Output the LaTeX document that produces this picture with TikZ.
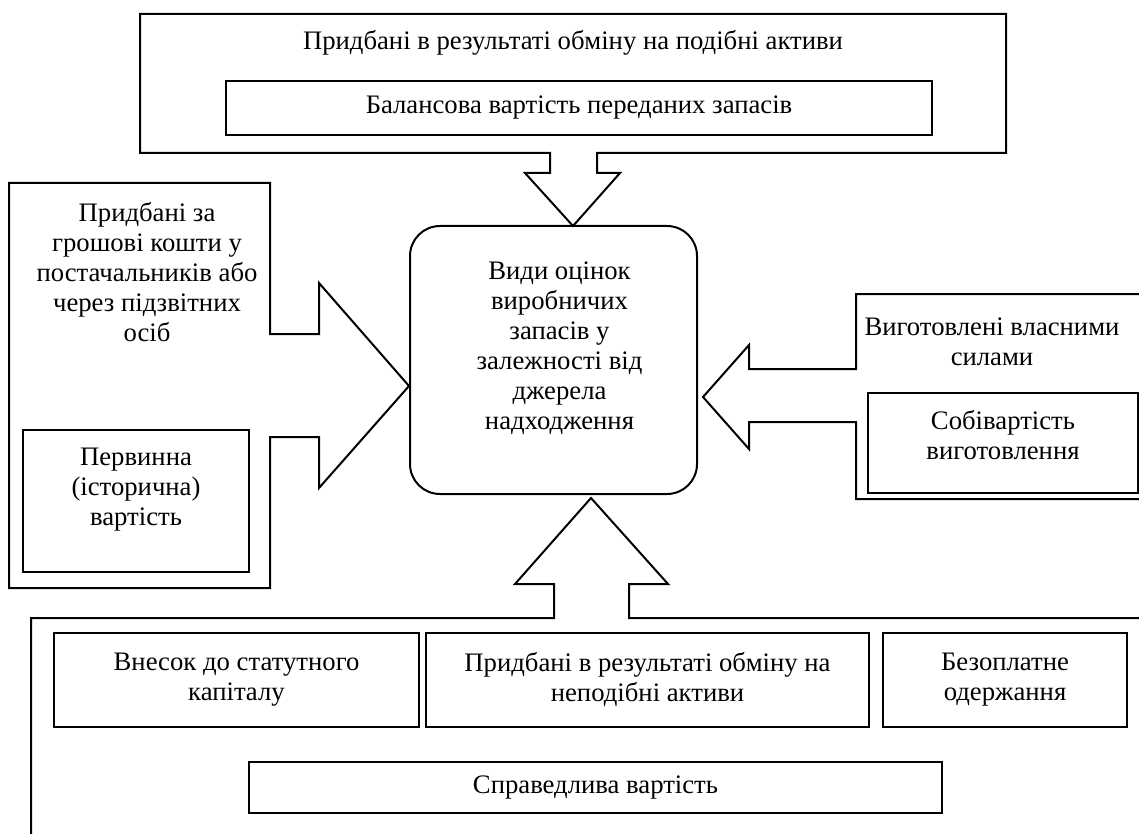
\documentclass[tikz,border=0pt]{standalone}
\usepackage{fontspec}
\setmainfont{Liberation Serif}
\tikzset{
  box/.style={draw, line width=1pt, inner sep=0pt, align=center},
  callout/.style={draw, line width=1pt, line join=miter},
  txt/.style={align=center, inner sep=0pt}
}
\begin{document}
\begin{tikzpicture}[x=0.5pt, y=-0.5pt, font=\fontsize{13.35}{15}\selectfont]

\useasboundingbox (0,0) rectangle (1139,834);
\clip (0,0) rectangle (1139,834);

% top: down arrow callout
\draw[callout] (140,14) -- (1006,14) -- (1006,153) -- (597,153) -- (597,173) -- (620,173)
  -- (573,226) -- (525,173) -- (550,173) -- (550,153) -- (140,153) -- cycle;
\node[txt] (topt) at (573,43) {Придбані в результаті обміну на подібні активи};
\node[box, minimum width=353pt, minimum height=27pt] (balans) at (579,108) {Балансова вартість переданих запасів};

% left: right arrow callout
\draw[callout] (9,183) -- (270,183) -- (270,334) -- (319,334) -- (319,283) -- (409,386)
  -- (319,488) -- (319,437) -- (270,437) -- (270,588) -- (9,588) -- cycle;
\node[txt] (leftt) at (147,272.5) {Придбані за\\грошові кошти у\\постачальників або\\через підзвітних\\осіб};
\node[box, minimum width=113pt, minimum height=71pt, text depth=14pt] (pervynna) at (136,501) {Первинна\\(історична)\\вартість};

% right: left arrow callout
\draw[callout] (1170,294) -- (856,294) -- (856,369) -- (749,369) -- (749,345) -- (703,397)
  -- (749,449) -- (749,422) -- (856,422) -- (856,499) -- (1170,499);
\node[txt] (rightt) at (992,342) {Виготовлені власними\\силами};
\node[box, minimum width=135pt, minimum height=50pt, text depth=8pt] (sobiv) at (1003,443) {Собівартість\\виготовлення};

% centre
\node[box, rounded corners=15pt, minimum width=143.5pt, minimum height=134pt, text depth=16pt] (centre) at (553.5,360)
  {\hspace*{6pt}\begin{tabular}[b]{@{}c@{}}Види оцінок\\виробничих\\запасів у\\залежності від\\джерела\\надходження\end{tabular}};

% bottom: up arrow callout
\draw[callout] (31,870) -- (31,618) -- (554,618) -- (554,584) -- (515,584) -- (591,498)
  -- (668,584) -- (629,584) -- (629,618) -- (1170,618);
\node[box, minimum width=182.5pt, minimum height=47pt] (vnesok) at (236.5,680) {Внесок до статутного\\капіталу};
\node[box, minimum width=221.5pt, minimum height=47pt] (nepodibni) at (647.5,680) {Придбані в результаті обміну на\\неподібні активи};
\node[box, minimum width=122pt, minimum height=47pt] (bezoplat) at (1005,680) {Безоплатне\\одержання};
\node[box, minimum width=346.5pt, minimum height=25.5pt] (sprav) at (595.5,787.5) {Справедлива вартість};

\end{tikzpicture}
\end{document}
